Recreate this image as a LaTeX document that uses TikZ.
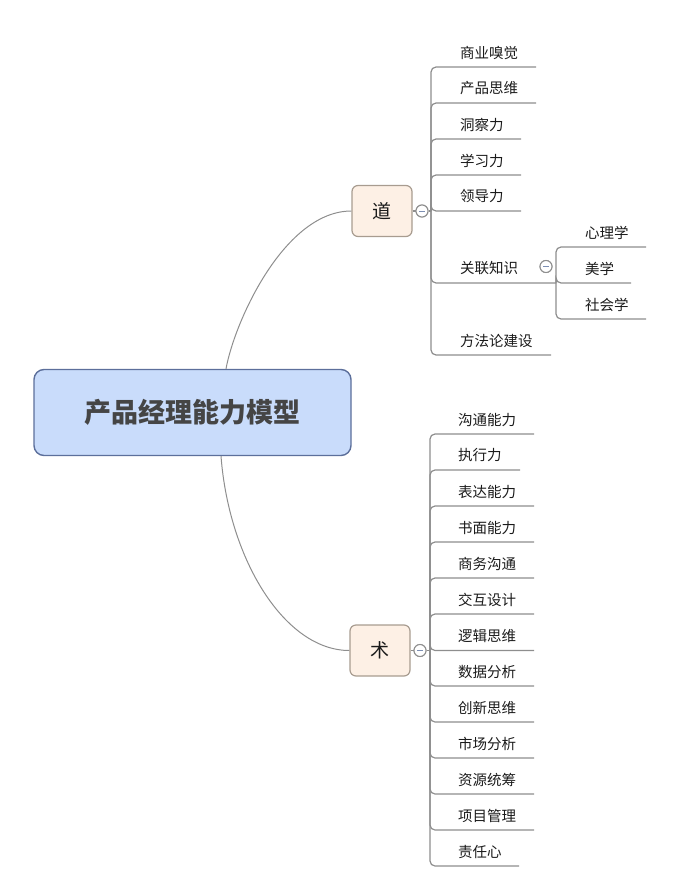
\documentclass[tikz,border=0pt]{standalone}
\usepackage{fontspec}
\setmainfont{Noto Sans CJK SC}
\definecolor{linegray}{HTML}{8E8E8E}
\definecolor{mainfill}{HTML}{C9DCFB}
\definecolor{mainborder}{HTML}{5C6F9B}
\definecolor{roottext}{HTML}{454545}
\definecolor{subfill}{HTML}{FDF0E5}
\definecolor{subborder}{HTML}{A89C90}
\definecolor{leafcol}{HTML}{1A1A1A}
\definecolor{minuscol}{HTML}{7D8FB3}
\begin{document}
\begin{tikzpicture}[x=1pt,y=-1pt,
  conn/.style={draw=linegray,line width=1.2pt,rounded corners=5pt},
  branch/.style={draw=linegray,line width=1pt},
  leaf/.style={anchor=west,inner sep=0pt,font=\fontsize{14.5pt}{16pt}\selectfont,text=leafcol},
  rootbox/.style={draw=mainborder,fill=mainfill,line width=1.4pt,rounded corners=10pt,minimum width=317pt,minimum height=86pt,inner sep=0pt,font=\fontsize{27pt}{31pt}\selectfont\bfseries,text=roottext},
  mainbox/.style={draw=subborder,fill=subfill,line width=1.2pt,rounded corners=6pt,minimum width=60pt,minimum height=51pt,inner sep=0pt,font=\fontsize{19pt}{22pt}\selectfont,text=leafcol},
  btn/.style={circle,draw=linegray,fill=white,line width=1pt,minimum size=12pt,inner sep=0pt}
]
\useasboundingbox (0,0) rectangle (673,891);

% root
\node[rootbox] (root) at (192.5,412.5) {产品经理能力模型};

% main topics
\node[mainbox] (dao) at (382,211) {道};
\node[mainbox] (shu) at (380,650.5) {术};

\draw[branch] ([xshift=33.5pt]root.north) .. controls (235,320) and (285,211) .. (dao.west);
\draw[branch] ([xshift=28.5pt]root.south) .. controls (229,560) and (285,650.5) .. (shu.west);

% buttons and hubs
\node[btn] (daobtn) at (422,211) {};
\node[btn] (shubtn) at (420,650.5) {};
\coordinate (daohub) at (431,211);
\coordinate (shuhub) at (430,650.5);
\draw[conn] (dao.east) -- (daobtn.west);
\draw[conn] (shu.east) -- (shubtn.west);

% 道 children
\foreach \t/\y/\r [count=\i] in {商业嗅觉/67/536,产品思维/103/536,洞察力/139/521,学习力/175/521,领导力/211/521,方法论建设/355/551}{
  \node[leaf] (d\i) at (460,\y-14.5) {\t};
  \coordinate (de\i) at (\r,\y);
  \draw[conn] (daohub) |- (de\i);
}
% 关联知识 with its children
\node[leaf] (gl) at (460,268.5) {关联知识};
\coordinate (glhub) at (556,283);
\draw[conn] (daohub) |- (glhub);
\node[btn] (glbtn) at (546,266.5) {};
\foreach \t/\y/\r [count=\i] in {心理学/247/646,美学/283/631,社会学/319/646}{
  \node[leaf] (g\i) at (585,\y-14.5) {\t};
  \coordinate (ge\i) at (\r,\y);
  \draw[conn] (glhub) |- (ge\i);
}

% 术 children
\foreach \t/\y/\r [count=\i] in {沟通能力/434/534,执行力/470/520,表达能力/506/534,书面能力/542/534,商务沟通/578/534,交互设计/614/534,逻辑思维/650.5/534,数据分析/686/534,创新思维/722/534,市场分析/758/534,资源统筹/794/534,项目管理/830/534,责任心/866/519}{
  \node[leaf] (s\i) at (458,\y-14.5) {\t};
  \coordinate (se\i) at (\r,\y);
  \draw[conn] (shuhub) |- (se\i);
}

% connection from buttons to hubs, buttons on top
\draw[conn] (daobtn.east) -- (daohub);
\draw[conn] (shubtn.east) -- (shuhub);
\foreach \b in {daobtn,shubtn,glbtn}{
  \node[btn] at (\b.center) {};
  \draw[minuscol,line width=1pt] ([xshift=-3pt]\b.center) -- ([xshift=3pt]\b.center);
}
\end{tikzpicture}
\end{document}
